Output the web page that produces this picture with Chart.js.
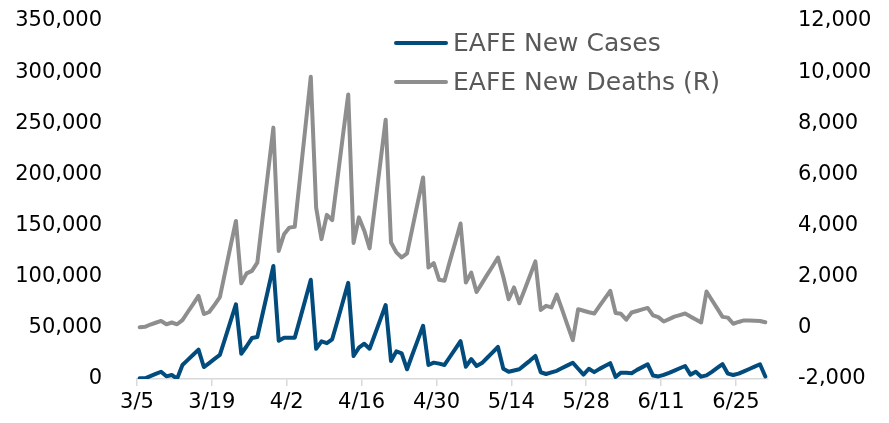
<!DOCTYPE html>
<html>
<head>
<meta charset="utf-8">
<script src="https://cdn.jsdelivr.net/npm/chart.js@4.4.0/dist/chart.umd.min.js"></script>
<style>
  html, body { margin: 0; padding: 0; background: #fff; }
  #wrap { width: 889px; height: 423px; }
</style>
</head>
<body>
<div id="wrap"><canvas id="c" width="889" height="423"></canvas></div>
<script>
// Daily calendar, 3/5 through 6/30
const START = new Date(2020, 2, 5);
const DAY_COUNT = 118;
const dates = Array.from({ length: DAY_COUNT }, (_, i) => {
  const d = new Date(START.getFullYear(), START.getMonth(), START.getDate() + i);
  return (d.getMonth() + 1) + '/' + d.getDate();
});

// Axis labels every two weeks
const tickLabels = ['3/5', '3/19', '4/2', '4/16', '4/30', '5/14', '5/28', '6/11', '6/25'];

// EAFE daily new cases (left axis)
const cases = [
  700, 700, 2800, 5000, 7100, 2600, 3900, 300, 13700, 18700,
  23700, 28700, 11700, 15600, 19600, 23500, 40000, 56500, 73000, 24700,
  32000, 40000, 41000, 64000, 87000, 110500, 37500, 40400, 40400, 40400,
  59000, 78000, 97000, 29500, 36800, 35000, 38800, 57000, 75500, 94000,
  22500, 30600, 34500, 29600, 43800, 58000, 72300, 17600, 27000, 25000,
  9500, 24000, 38000, 52000, 13700, 16000, 15000, 13700, 21500, 29300,
  37100, 12000, 19500, 12700, 15600, 20800, 26000, 31300, 10000, 7100,
  8300, 9500, 13800, 18000, 22500, 6600, 4900, 6500, 8000, 10700,
  13300, 15900, 10000, 4300, 10000, 6700, 9900, 12700, 15500, 2000,
  6200, 6000, 5700, 8900, 11600, 14400, 3400, 2500, 4000, 6000,
  8200, 10500, 12700, 4300, 7000, 2300, 3500, 7000, 10800, 14500,
  5200, 3900, 5200, 7500, 9800, 12100, 14400, 2500
];

// EAFE daily new deaths (right axis)
const deaths = [
  20, 40, 130, 200, 270, 140, 210, 140, 300, 620,
  930, 1250, 540, 620, 900, 1200, 2200, 3200, 4180, 1740,
  2130, 2230, 2550, 4310, 6070, 7830, 3010, 3660, 3920, 3950,
  5900, 7860, 9820, 4700, 3470, 4420, 4210, 5850, 7500, 9130,
  3320, 4320, 3800, 3110, 4780, 6450, 8140, 3340, 2950, 2750,
  2910, 3900, 4900, 5880, 2360, 2530, 1880, 1840, 2600, 3330,
  4080, 1770, 2160, 1400, 1740, 2080, 2410, 2750, 2000, 1120,
  1580, 960, 1500, 2050, 2600, 700, 860, 800, 1300, 710,
  110, -480, 730, 670, 610, 560, 860, 1150, 1450, 580,
  550, 320, 600, 660, 720, 780, 490, 420, 250, 340,
  440, 500, 560, 440, 330, 210, 1420, 1090, 760, 430,
  400, 160, 230, 290, 290, 280, 270, 220
];

const FONT_FAMILY = "'DejaVu Sans', 'Liberation Sans', Arial, sans-serif";
const BLUE = '#014b7d';
const GRAY = '#8e8e8e';
const AXIS_GRAY = '#d9d9d9';

const tickIndex = tickLabels.map(l => dates.indexOf(l));
const toPoints = arr => arr.map((v, i) => ({ x: i, y: v }));

// Value axes: fixed width, no extra vertical padding around the plot
const fixValueAxis = width => s => {
  s.width = width;
  s.paddingTop = 0;
  s.paddingBottom = 0;
};

// Two-row legend drawn inside the plot, upper middle
const insetLegend = {
  id: 'insetLegend',
  afterDatasetsDraw(chart) {
    const { ctx } = chart;
    ctx.save();
    chart.data.datasets.forEach((ds, i) => {
      const y = 43 + i * 39;
      ctx.strokeStyle = ds.borderColor;
      ctx.lineWidth = 4;
      ctx.lineCap = 'round';
      ctx.beginPath();
      ctx.moveTo(396, y);
      ctx.lineTo(446, y);
      ctx.stroke();
      ctx.fillStyle = '#595959';
      ctx.font = '25px ' + FONT_FAMILY;
      ctx.textBaseline = 'middle';
      ctx.textAlign = 'left';
      ctx.fillText(ds.label, 453, y + 1);
    });
    ctx.restore();
  }
};

new Chart(document.getElementById('c'), {
  type: 'line',
  data: {
    datasets: [
      {
        label: 'EAFE New Cases',
        data: toPoints(cases),
        yAxisID: 'y',
        borderColor: BLUE,
        backgroundColor: BLUE,
        borderWidth: 4,
        pointRadius: 0,
        tension: 0,
        borderJoinStyle: 'round',
        borderCapStyle: 'round'
      },
      {
        label: 'EAFE New Deaths (R)',
        data: toPoints(deaths),
        yAxisID: 'y2',
        borderColor: GRAY,
        backgroundColor: GRAY,
        borderWidth: 4,
        pointRadius: 0,
        tension: 0,
        borderJoinStyle: 'round',
        borderCapStyle: 'round'
      }
    ]
  },
  options: {
    responsive: false,
    animation: false,
    devicePixelRatio: 1,
    layout: { padding: { top: 21, left: 0, right: 0, bottom: 0 } },
    plugins: {
      legend: { display: false },
      tooltip: { enabled: false }
    },
    scales: {
      x: {
        type: 'linear',
        min: -0.5,
        max: DAY_COUNT - 0.5,
        afterBuildTicks: s => { s.ticks = tickIndex.map(i => ({ value: i - 0.5 })); },
        afterFit: s => { s.height = 44; s.paddingLeft = 0; s.paddingRight = 0; },
        ticks: {
          autoSkip: false,
          maxRotation: 0,
          padding: 4,
          color: '#000',
          font: { family: FONT_FAMILY, size: 21 },
          callback: v => dates[Math.round(v + 0.5)]
        },
        grid: {
          drawOnChartArea: false,
          drawTicks: true,
          tickLength: 7,
          color: AXIS_GRAY,
          lineWidth: 1.5
        },
        border: { display: true, color: AXIS_GRAY, width: 1.5 }
      },
      y: {
        position: 'left',
        min: 0,
        max: 350000,
        afterFit: fixValueAxis(137),
        ticks: {
          stepSize: 50000,
          padding: 27,
          color: '#000',
          font: { family: FONT_FAMILY, size: 21 },
          callback: v => v.toLocaleString('en-US')
        },
        grid: { display: false },
        border: { display: false }
      },
      y2: {
        position: 'right',
        min: -2000,
        max: 12000,
        afterFit: fixValueAxis(121),
        ticks: {
          stepSize: 2000,
          padding: 22,
          color: '#000',
          font: { family: FONT_FAMILY, size: 21 },
          callback: v => v.toLocaleString('en-US')
        },
        grid: { display: false },
        border: { display: false }
      }
    }
  },
  plugins: [insetLegend]
});
</script>
</body>
</html>
